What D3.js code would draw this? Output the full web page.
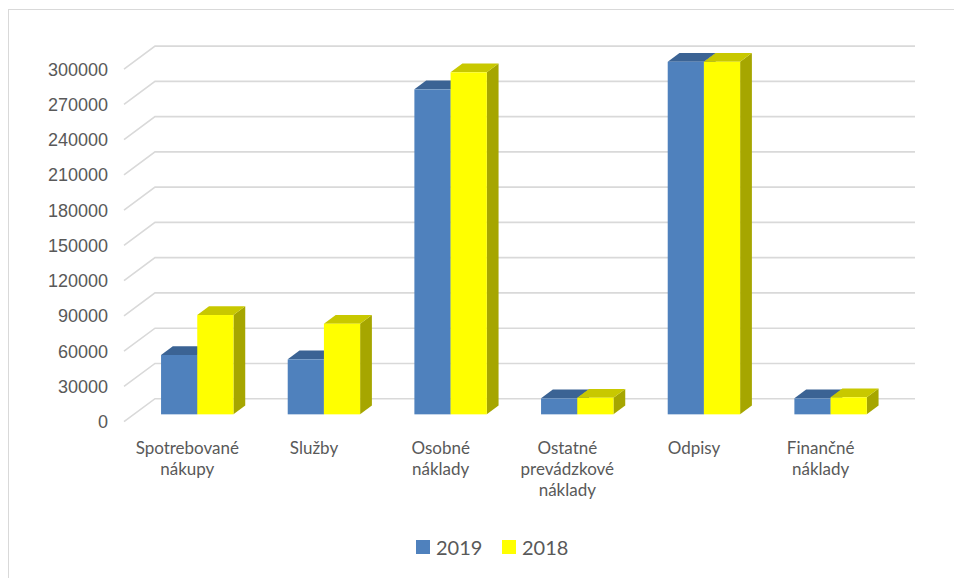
<!DOCTYPE html>
<html>
<head>
<meta charset="utf-8">
<script src="https://cdn.jsdelivr.net/npm/d3@7"></script>
<style>
html,body{margin:0;padding:0;background:#fff;}
svg{display:block;}
</style>
</head>
<body>
<svg id="chart" width="954" height="578"></svg>
<script>
const categories = [
  ["Spotrebované","nákupy"],
  ["Služby"],
  ["Osobné","náklady"],
  ["Ostatné","prevádzkové","náklady"],
  ["Odpisy"],
  ["Finančné","náklady"]
];
const seriesNames = ["2019","2018"];
const values2019 = [50500, 46800, 276500, 13600, 300000, 13600];
const values2018 = [84500, 77100, 291000, 14100, 300000, 14500];
const yTicks = [0,30000,60000,90000,120000,150000,180000,210000,240000,270000,300000];

const colors = {
  "2019": {front:"#4F81BD", top:"#3B6394", side:"#34598A"},
  "2018": {front:"#FFFF00", top:"#C8C800", side:"#A6A600"}
};

const svg = d3.select("#chart");
// chart frame
svg.append("rect").attr("x",8.5).attr("y",9.5).attr("width",1200).attr("height",1200)
  .attr("fill","none").attr("stroke","#D9D9D9").attr("stroke-width",1);

// 3D geometry
const DX = 31, DY = -23;       // full depth vector (front -> back wall)
const fFront = 0.32, fBack = 0.70; // bar depth fractions
const x0 = d3.scaleBand().domain(d3.range(categories.length)).range([124, 884]);
const groupW = 72.4;
const x1 = d3.scaleBand().domain(seriesNames).range([0, groupW]);
const y = d3.scaleLinear().domain([0,300000]).range([421.7, 421.7-352.6]);

// gridlines (side wall oblique + back wall)
const grid = svg.append("g");
yTicks.forEach(t => {
  const yf = y(t);
  grid.append("path")
    .attr("d", `M${x0.range()[0]},${yf} L${x0.range()[0]+DX},${yf+DY} L${x0.range()[1]+DX},${yf+DY}`)
    .attr("fill","none").attr("stroke","#D9D9D9").attr("stroke-width",1.6);
});

// y tick labels
svg.append("g").selectAll("text").data(yTicks).join("text")
  .attr("x",108).attr("y",d=>y(d)).attr("dy","0.36em")
  .attr("text-anchor","end")
  .attr("font-family","'Liberation Sans', Arial, sans-serif")
  .attr("font-size",18).attr("fill","#595959")
  .text(d=>d);

// bars
const bars = svg.append("g");
const data = categories.map((c,i)=>({i, vals:[{s:"2019",v:values2019[i]},{s:"2018",v:values2018[i]}]}));
const fx = DX*fFront, fy = DY*fFront;
const bx = DX*(fBack-fFront), by = DY*(fBack-fFront);
data.forEach(d=>{
  d.vals.forEach(s=>{
    const xl = x0(d.i) + (x0.bandwidth()-groupW)/2 + x1(s.s) + fx;
    const w = x1.bandwidth();
    const yt = y(s.v) + fy;
    const yb = y(0) + fy;
    const c = colors[s.s];
    // side
    bars.append("path")
      .attr("d",`M${xl+w},${yt} L${xl+w+bx},${yt+by} L${xl+w+bx},${yb+by} L${xl+w},${yb} Z`)
      .attr("fill",c.side);
    // top
    bars.append("path")
      .attr("d",`M${xl},${yt} L${xl+bx},${yt+by} L${xl+w+bx},${yt+by} L${xl+w},${yt} Z`)
      .attr("fill",c.top);
    // front
    bars.append("rect").attr("x",xl).attr("y",yt).attr("width",w).attr("height",yb-yt)
      .attr("fill",c.front);
  });
});

// category labels
const lab = svg.append("g");
categories.forEach((lines,i)=>{
  const cx = x0(i) + x0.bandwidth()/2;
  const t = lab.append("text")
    .attr("text-anchor","middle")
    .attr("font-family","Lato, 'Open Sans', sans-serif")
    .attr("font-size",17).attr("fill","#595959");
  lines.forEach((ln,k)=>{
    t.append("tspan").attr("x",cx).attr("y",454 + k*21).text(ln);
  });
});

// legend
const leg = svg.append("g");
const legItems = [{s:"2019", x:416},{s:"2018", x:502}];
legItems.forEach(it=>{
  leg.append("rect").attr("x",it.x).attr("y",540).attr("width",14).attr("height",14)
    .attr("fill",colors[it.s].front);
  leg.append("text").attr("x",it.x+20).attr("y",554.5)
    .attr("font-family","Lato, 'Open Sans', sans-serif")
    .attr("font-size",20).attr("fill","#595959").text(it.s);
});
</script>
</body>
</html>
